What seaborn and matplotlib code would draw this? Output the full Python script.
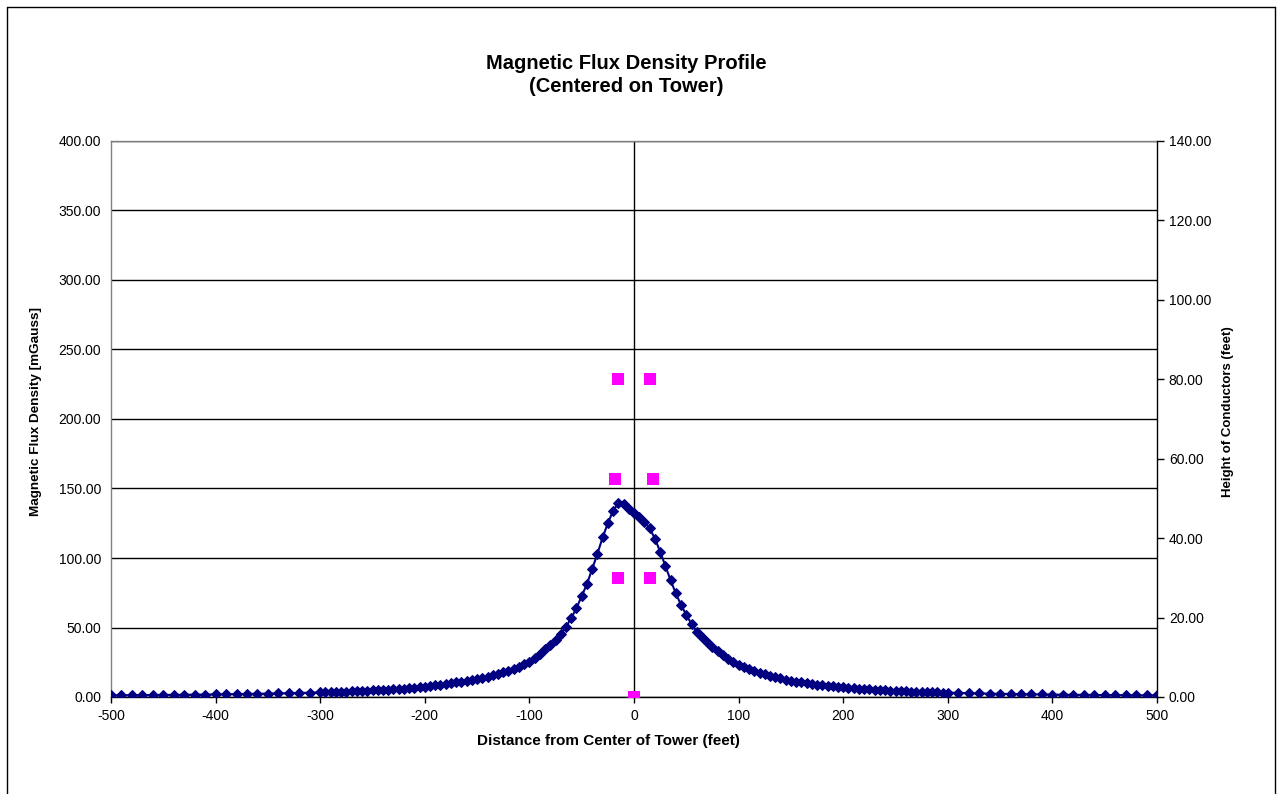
import matplotlib
matplotlib.use('Agg')
import matplotlib.pyplot as plt
from matplotlib.lines import Line2D
import seaborn as sns
import pandas as pd

# distance from tower centre (feet): 10 ft steps in the tails, 5 ft steps in the middle
dist_left = list(range(-500, -300, 10))
dist_mid = list(range(-300, 305, 5))
dist_right = list(range(310, 510, 10))
distance = dist_left + dist_mid + dist_right

# magnetic flux density (mGauss)
flux_left = [1.19, 1.24, 1.29, 1.34, 1.40, 1.47, 1.53, 1.61, 1.68, 1.77,
             1.86, 1.95, 2.06, 2.17, 2.29, 2.42, 2.57, 2.73, 2.90, 3.09]
flux_mid = [
    # -300 .. -205
    3.30, 3.40, 3.50, 3.65, 3.80, 3.95, 4.10, 4.25, 4.40, 4.55,
    4.70, 4.90, 5.10, 5.35, 5.60, 5.85, 6.10, 6.40, 6.70, 7.05,
    # -200 .. -105
    7.40, 7.80, 8.30, 8.80, 9.30, 10.0, 10.5, 11.1, 11.7, 12.3,
    13.0, 13.8, 14.7, 15.6, 16.6, 17.7, 18.9, 20.2, 21.7, 23.4,
    # -100 .. -5
    25.3, 28.0, 31.0, 34.2, 37.6, 41.3, 45.5, 50.5, 56.8, 64.0,
    72.6, 81.2, 92.0, 103.0, 114.8, 125.0, 134.0, 139.4, 138.6, 135.5,
    # 0 .. 95
    132.2, 129.3, 126.0, 121.3, 114.0, 104.5, 94.2, 84.0, 74.5, 66.2,
    59.0, 52.6, 47.0, 43.0, 39.5, 36.0, 33.0, 30.0, 27.5, 25.0,
    # 100 .. 195
    23.3, 21.5, 20.0, 18.6, 17.4, 16.3, 15.3, 14.3, 13.4, 12.5,
    11.8, 11.1, 10.5, 9.9, 9.4, 8.9, 8.4, 8.0, 7.6, 7.2,
    # 200 .. 300
    6.9, 6.6, 6.3, 6.0, 5.7, 5.5, 5.2, 5.0, 4.8, 4.6,
    4.4, 4.25, 4.1, 3.95, 3.8, 3.65, 3.5, 3.4, 3.3, 3.2, 3.1,
]
flux_right = [2.90, 2.72, 2.56, 2.41, 2.28, 2.15, 2.04, 1.93, 1.83, 1.74,
              1.66, 1.58, 1.51, 1.44, 1.38, 1.32, 1.26, 1.21, 1.16, 1.12]
flux = flux_left + flux_mid + flux_right

# conductor positions (feet) and heights (feet)
cond_x = [-15, 15, -18, 18, -15, 15, 0]
cond_h = [80, 80, 55, 55, 30, 30, 0]

profile = pd.DataFrame({'distance': distance, 'flux': flux})
conductors = pd.DataFrame({'x': cond_x, 'h': cond_h})

sns.set_style('white')
plt.rcParams['font.family'] = ['Liberation Sans', 'DejaVu Sans']
plt.rcParams['axes.unicode_minus'] = False
for k in ['text.color', 'axes.labelcolor', 'xtick.color', 'ytick.color']:
    plt.rcParams[k] = 'black'

fig = plt.figure(figsize=(12.8, 7.94), dpi=100)
ax = fig.add_axes([111 / 1280, 1 - 697 / 794, 1046 / 1280, 556 / 794])
ax2 = ax.twinx()

navy = '#000080'
sns.lineplot(data=profile, x='distance', y='flux', ax=ax, color=navy,
             linewidth=1.5, marker='D', markersize=5, markeredgecolor=navy,
             zorder=5)
sns.scatterplot(data=conductors, x='x', y='h', ax=ax2, color='#FF00FF',
                marker='s', s=64, linewidth=0, zorder=6)

ax.set_xlim(-500, 500)
ax.set_ylim(0, 400)
ax2.set_ylim(0, 140)
ax.set_xticks(range(-500, 501, 100))
ax.set_yticks(range(0, 401, 50))
ax2.set_yticks(range(0, 141, 20))
ax.set_yticklabels(['%.2f' % v for v in range(0, 401, 50)])
ax2.set_yticklabels(['%.2f' % v for v in range(0, 141, 20)])

ax.grid(axis='y', color='black', linewidth=1)
ax.grid(axis='x', visible=False)
ax.axvline(0, color='black', linewidth=1, zorder=2)

for s in ['top', 'left']:
    ax.spines[s].set_color('#808080')
ax.spines['bottom'].set_color('black')
ax.spines['right'].set_visible(False)
ax2.spines['right'].set_color('black')
for s in ['top', 'left', 'bottom']:
    ax2.spines[s].set_visible(False)
for sp in list(ax.spines.values()) + list(ax2.spines.values()):
    sp.set_linewidth(1)

ax.tick_params(axis='x', direction='out', length=4, width=1, color='black',
               labelsize=10, pad=5, bottom=True)
ax.tick_params(axis='y', length=0, labelsize=10, pad=7)
ax2.tick_params(axis='y', direction='out', length=5, width=1, color='black',
                labelsize=10, pad=3.5, right=True)

ax.set_xlabel('Distance from Center of Tower (feet)', fontsize=11,
              fontweight='bold')
ax.xaxis.set_label_coords(0.476, -0.066)
ax.set_ylabel('Magnetic Flux Density [mGauss]', fontsize=9.7,
              fontweight='bold')
ax.yaxis.set_label_coords(-0.066, 0.514)
ax2.set_ylabel('Height of Conductors (feet)', fontsize=9.5,
               fontweight='bold', rotation=90)
ax2.yaxis.set_label_coords(1.062, 0.514)

fig.text(626 / 1280, 1 - 75 / 794,
         'Magnetic Flux Density Profile\n(Centered on Tower)',
         ha='center', va='center', fontsize=14.5, fontweight='bold',
         linespacing=1.3)

# chart-area border (Excel style)
for xs, ys in [([7 / 1280, 7 / 1280], [0, 1 - 7 / 794]),
               ([7 / 1280, 1275 / 1280], [1 - 7 / 794, 1 - 7 / 794]),
               ([1275 / 1280, 1275 / 1280], [0, 1 - 7 / 794])]:
    fig.add_artist(Line2D(xs, ys, transform=fig.transFigure, color='black',
                          linewidth=1))

fig.savefig('out.png', dpi=100)
